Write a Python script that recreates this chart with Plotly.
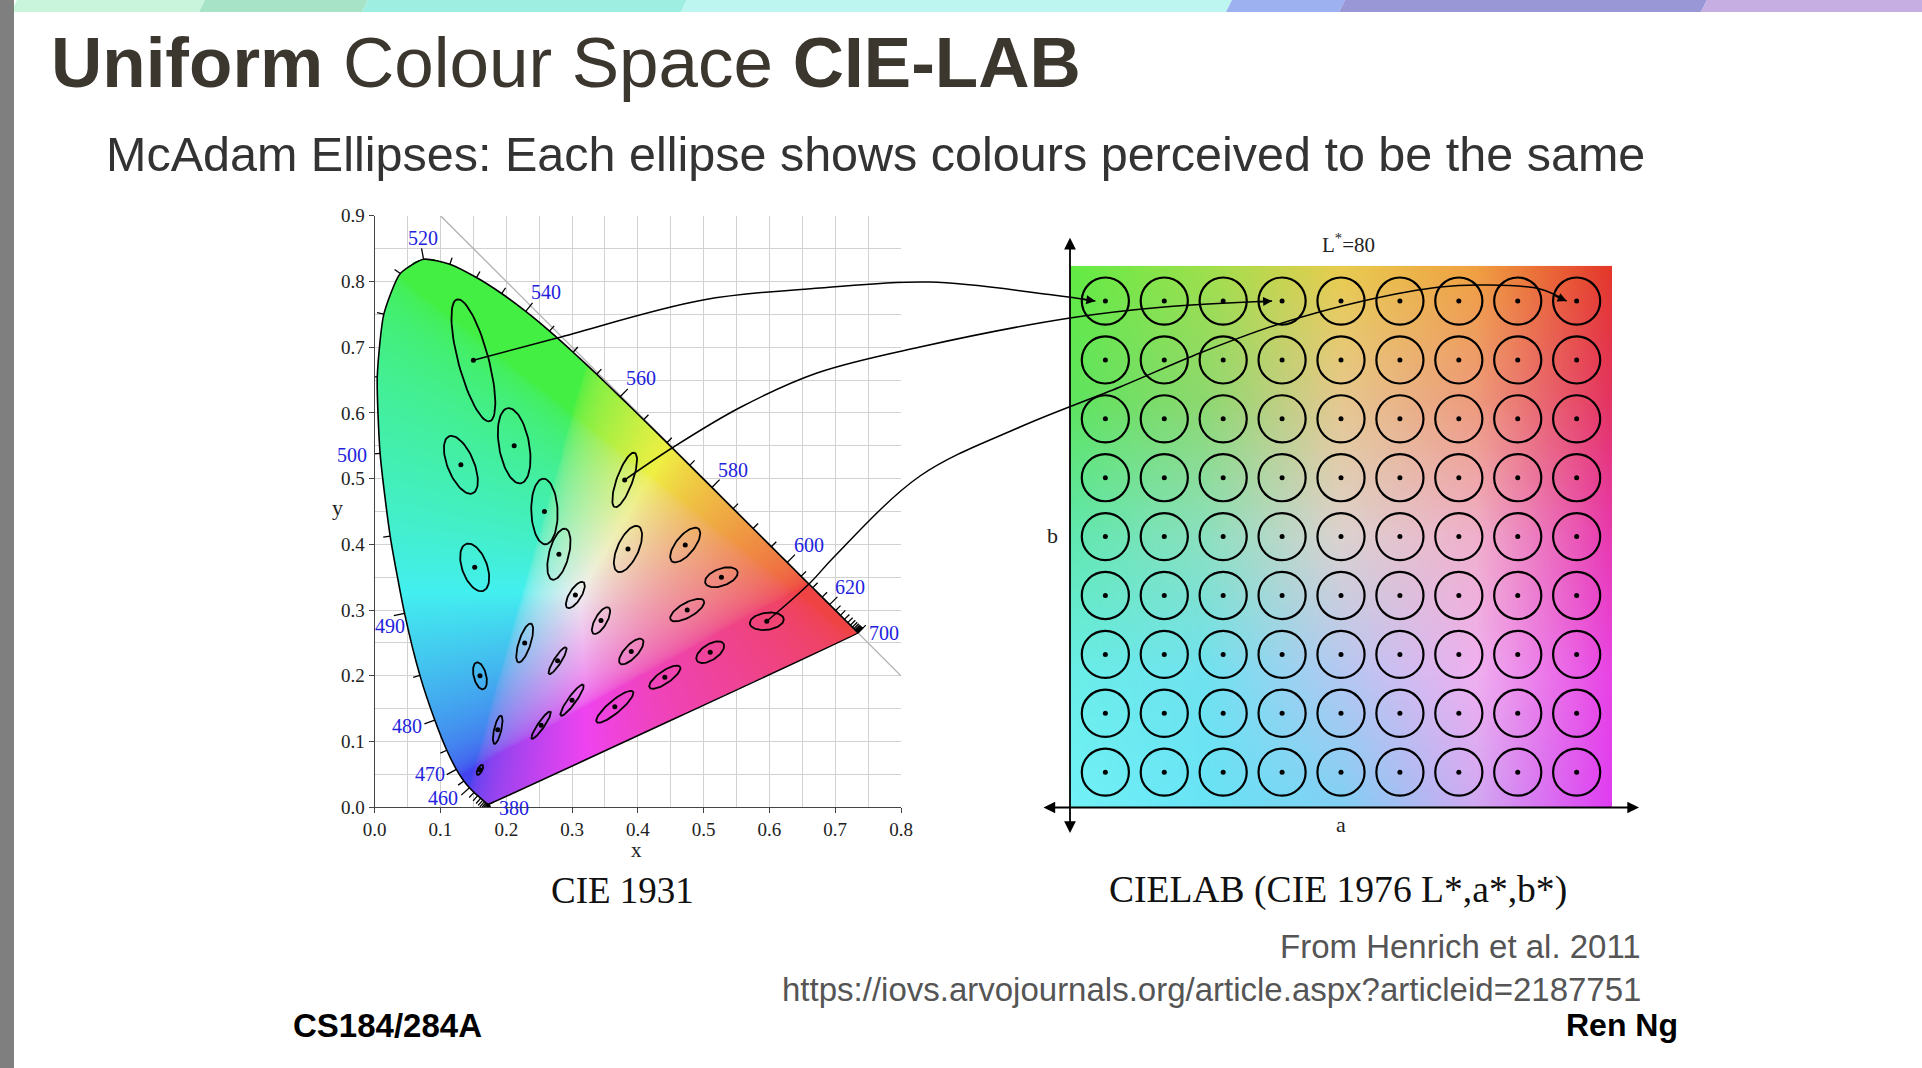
import numpy as np
import plotly.graph_objects as go

# All positions are in window pixels of the 1922x1068 page.
W, H = 1922, 1068

# ---------------- data ----------------
# CIE 1931 2-degree spectral locus, 5 nm steps
LOCUS_NM = list(range(380, 705, 5))
LOCUS_X = [0.1741, 0.1740, 0.1738, 0.1736, 0.1733, 0.1730, 0.1726, 0.1721, 0.1714, 0.1703,
           0.1689, 0.1669, 0.1644, 0.1611, 0.1566, 0.1510, 0.1440, 0.1355, 0.1241, 0.1096,
           0.0913, 0.0687, 0.0454, 0.0235, 0.0082, 0.0039, 0.0139, 0.0389, 0.0743, 0.1142,
           0.1547, 0.1929, 0.2296, 0.2658, 0.3016, 0.3373, 0.3731, 0.4087, 0.4441, 0.4788,
           0.5125, 0.5448, 0.5752, 0.6029, 0.6270, 0.6482, 0.6658, 0.6801, 0.6915, 0.7006,
           0.7079, 0.7140, 0.7190, 0.7230, 0.7260, 0.7283, 0.7300, 0.7311, 0.7320, 0.7327,
           0.7334, 0.7340, 0.7344, 0.7346, 0.7347]
LOCUS_Y = [0.0050, 0.0050, 0.0049, 0.0049, 0.0048, 0.0048, 0.0048, 0.0048, 0.0051, 0.0058,
           0.0069, 0.0086, 0.0109, 0.0138, 0.0177, 0.0227, 0.0297, 0.0399, 0.0578, 0.0868,
           0.1327, 0.2007, 0.2950, 0.4127, 0.5384, 0.6548, 0.7502, 0.8120, 0.8338, 0.8262,
           0.8059, 0.7816, 0.7543, 0.7243, 0.6923, 0.6589, 0.6245, 0.5896, 0.5547, 0.5202,
           0.4866, 0.4544, 0.4242, 0.3965, 0.3725, 0.3514, 0.3340, 0.3197, 0.3083, 0.2993,
           0.2920, 0.2859, 0.2809, 0.2770, 0.2740, 0.2717, 0.2700, 0.2689, 0.2680, 0.2673,
           0.2666, 0.2660, 0.2656, 0.2654, 0.2653]
WL_LABELS = [380, 460, 470, 480, 490, 500, 520, 540, 560, 580, 600, 620, 700]

# MacAdam (1942) ellipses: centre, semi-axes (x1e-3), orientation (deg); drawn 10x enlarged
MAC_X = [0.160, 0.187, 0.253, 0.150, 0.131, 0.212, 0.258, 0.152, 0.280, 0.380, 0.160, 0.228, 0.305,
         0.385, 0.472, 0.527, 0.475, 0.510, 0.596, 0.344, 0.390, 0.441, 0.278, 0.300, 0.365]
MAC_Y = [0.057, 0.118, 0.125, 0.680, 0.521, 0.550, 0.450, 0.365, 0.385, 0.498, 0.200, 0.250, 0.323,
         0.393, 0.399, 0.350, 0.300, 0.236, 0.283, 0.284, 0.237, 0.198, 0.223, 0.163, 0.153]
MAC_A = [0.85, 2.2, 2.5, 9.6, 4.7, 5.8, 5.0, 3.8, 4.0, 4.4, 2.1, 3.1, 2.3,
         3.8, 3.2, 2.6, 2.9, 2.4, 2.6, 2.3, 2.5, 2.8, 2.4, 2.9, 3.6]
MAC_B = [0.35, 0.55, 0.5, 2.3, 2.0, 2.3, 2.0, 1.9, 1.5, 1.2, 0.95, 0.9, 0.9,
         1.6, 1.4, 1.3, 1.1, 1.2, 1.3, 0.9, 1.0, 0.95, 0.55, 0.6, 0.95]
MAC_T = [62.5, 77, 55.5, 105, 112.5, 100, 92, 110, 75.5, 70, 104, 72, 58,
         65.5, 51, 20, 29.5, 33, 8, 60, 47, 34.5, 57.5, 54, 40]
MAC_SCALE = 10

GUIDE_X = [0.1, 0.8]   # x + y = 1 guide
GUIDE_Y = [0.9, 0.2]

# CIELAB plane, L* = 80
LAB_A = [-80, -60, -40, -20, 0, 20, 40, 60, 80]
LAB_B = [80, 60, 40, 20, 0, -20, -40, -60, -80]
LAB_RADIUS = 8
LAB_RANGE = 92

# connectors: ellipse number -> (a, b) circle
CONNECT_FROM = [4, 10, 19]
CONNECT_TO = [(-80, 80), (-20, 80), (80, 80)]

# ---------------- layout geometry (window pixels) ----------------
LX0, LX1, LY0, LY1 = 374.7, 901.0, 215.7, 807.3
RX0, RX1, RY0, RY1 = 1070.0, 1612.0, 265.7, 807.5


def dom_x(a, b):
    return [a / W, b / W]


def dom_y(top, bottom):
    return [1 - bottom / H, 1 - top / H]


def left_px(x, y):
    return LX0 + x / 0.8 * (LX1 - LX0), LY1 - y / 0.9 * (LY1 - LY0)


def right_px(a, b):
    return (RX0 + (a + LAB_RANGE) / (2 * LAB_RANGE) * (RX1 - RX0),
            RY1 - (b + LAB_RANGE) / (2 * LAB_RANGE) * (RY1 - RY0))


SX = (LX1 - LX0) / 0.8
SY = (LY1 - LY0) / 0.9

fig = go.Figure()

# ---------- horseshoe colour image ----------
lx = np.array(LOCUS_X)
ly = np.array(LOCUS_Y)


def catmull(px, py, n=10):
    ox, oy = [], []
    m = len(px)
    for i in range(m - 1):
        p0 = np.array([px[max(i - 1, 0)], py[max(i - 1, 0)]])
        p1 = np.array([px[i], py[i]])
        p2 = np.array([px[i + 1], py[i + 1]])
        p3 = np.array([px[min(i + 2, m - 1)], py[min(i + 2, m - 1)]])
        for t in np.linspace(0, 1, n, endpoint=False):
            t2, t3 = t * t, t * t * t
            p = 0.5 * ((2 * p1) + (-p0 + p2) * t + (2 * p0 - 5 * p1 + 4 * p2 - p3) * t2 +
                       (-p0 + 3 * p1 - 3 * p2 + p3) * t3)
            ox.append(p[0]); oy.append(p[1])
    ox.append(px[-1]); oy.append(py[-1])
    return np.array(ox), np.array(oy)


polx, poly = catmull(lx, ly)
step = 0.0015
gx = np.arange(0, 0.8, step) + step / 2
gy = np.arange(0, 0.9, step) + step / 2
XX, YY = np.meshgrid(gx, gy)
inside = np.zeros(XX.shape, dtype=bool)
n = len(polx)
for i in range(n):
    j = i - 1
    xi, yi, xj, yj = polx[i], poly[i], polx[j], poly[j]
    cond = ((yi > YY) != (yj > YY)) & (XX < (xj - xi) * (YY - yi) / (yj - yi + 1e-12) + xi)
    inside ^= cond
Xc = XX / YY
Zc = (1 - XX - YY) / YY
M = np.array([[3.2406, -1.5372, -0.4986], [-0.9689, 1.8758, 0.0415], [0.0557, -0.2040, 1.0570]])
rgb = np.einsum('ij,jhw->hwi', M, np.stack([Xc, np.ones_like(Xc), Zc]))
rgb = np.clip(rgb, 0, None)
rgb = rgb / np.maximum(rgb.max(axis=-1, keepdims=True), 1e-9)
rgb = np.where(rgb <= 0.0031308, 12.92 * rgb, 1.055 * np.power(rgb, 1 / 2.4) - 0.055)
rgb = (0.72 * rgb + 0.28) * 0.94
img = np.zeros(XX.shape + (4,), dtype=np.uint8)
img[..., :3] = np.clip(rgb * 255, 0, 255).astype(np.uint8)
img[..., 3] = np.where(inside, 255, 0)

# grey guide line under the horseshoe
fig.add_trace(go.Scatter(x=GUIDE_X, y=GUIDE_Y, mode='lines', line=dict(color='#b0b0b0', width=1.3),
                         xaxis='x', yaxis='y', hoverinfo='skip'))
fig.add_trace(go.Image(z=img, colormodel='rgba', x0=step / 2, dx=step, y0=step / 2, dy=step,
                       zmin=[0, 0, 0, 0], zmax=[255, 255, 255, 255], xaxis='x', yaxis='y',
                       hoverinfo='skip'))

# locus outline
fig.add_trace(go.Scatter(x=LOCUS_X + [LOCUS_X[0]], y=LOCUS_Y + [LOCUS_Y[0]], mode='lines',
                         line=dict(color='black', width=1.6, shape='spline', smoothing=0.6),
                         xaxis='x', yaxis='y', hoverinfo='skip'))

# wavelength ticks (outward normals, computed in pixel space)
tx, ty = [], []
for k, nm in enumerate(LOCUS_NM):
    i0, i1 = max(k - 1, 0), min(k + 1, len(LOCUS_NM) - 1)
    dx = (LOCUS_X[i1] - LOCUS_X[i0]) * SX
    dy = (LOCUS_Y[i1] - LOCUS_Y[i0]) * SY
    L = np.hypot(dx, dy)
    nx, ny = -dy / L, dx / L
    ln = 11 if nm in WL_LABELS else 7
    tx += [LOCUS_X[k], LOCUS_X[k] + nx * ln / SX, None]
    ty += [LOCUS_Y[k], LOCUS_Y[k] + ny * ln / SY, None]
fig.add_trace(go.Scatter(x=tx, y=ty, mode='lines', line=dict(color='black', width=1.3),
                         xaxis='x', yaxis='y', hoverinfo='skip'))

# MacAdam ellipses
ex, ey = [], []
tt = np.linspace(0, 2 * np.pi, 73)
for cx, cy, a, b, th in zip(MAC_X, MAC_Y, MAC_A, MAC_B, MAC_T):
    A = a * 1e-3 * MAC_SCALE
    B = b * 1e-3 * MAC_SCALE
    t = np.radians(th)
    ex += list(cx + A * np.cos(tt) * np.cos(t) - B * np.sin(tt) * np.sin(t)) + [None]
    ey += list(cy + A * np.cos(tt) * np.sin(t) + B * np.sin(tt) * np.cos(t)) + [None]
fig.add_trace(go.Scatter(x=ex, y=ey, mode='lines', line=dict(color='black', width=1.8),
                         xaxis='x', yaxis='y', hoverinfo='skip'))
fig.add_trace(go.Scatter(x=MAC_X, y=MAC_Y, mode='markers', marker=dict(color='black', size=5),
                         xaxis='x', yaxis='y', hoverinfo='skip'))

# ---------- CIELAB panel ----------
LAB_BG = [
    ['#62ec44', '#9ee04c', '#e8cc4e', '#f0a040', '#e4362a'],
    ['#5ee45e', '#8ed870', '#e6c890', '#ee9a7c', '#e43262'],
    ['#60e8b0', '#8ce0c0', '#dcd2d0', '#f0b0cc', '#e838b0'],
    ['#6aeee8', '#70e2f0', '#b4c8f2', '#f0b0f0', '#e842e4'],
    ['#72f2f8', '#68e4f6', '#80d0f4', '#d0a8f2', '#e03cf2'],
]
grid = np.array([[[int(c[1:3], 16), int(c[3:5], 16), int(c[5:7], 16)] for c in row] for row in LAB_BG],
                dtype=float)
N = 2 * LAB_RANGE
u = (np.arange(N) + 0.5) / N
UU, VV = np.meshgrid(u, u)          # VV: 0 at bottom
gi = (1 - VV) * 4                    # row index from top
gj = UU * 4
i0 = np.clip(np.floor(gi).astype(int), 0, 3)
j0 = np.clip(np.floor(gj).astype(int), 0, 3)
fi = (gi - i0)[..., None]
fj = (gj - j0)[..., None]
lab_img = (grid[i0, j0] * (1 - fi) * (1 - fj) + grid[i0 + 1, j0] * fi * (1 - fj) +
           grid[i0, j0 + 1] * (1 - fi) * fj + grid[i0 + 1, j0 + 1] * fi * fj)
fig.add_trace(go.Image(z=lab_img.astype(np.uint8), x0=-LAB_RANGE + 0.5, dx=1, y0=-LAB_RANGE + 0.5, dy=1,
                       xaxis='x2', yaxis='y2', hoverinfo='skip'))
ga, gb = np.meshgrid(LAB_A, LAB_B)
fig.add_trace(go.Scatter(x=ga.ravel(), y=gb.ravel(), mode='markers', marker=dict(color='black', size=5),
                         xaxis='x2', yaxis='y2', hoverinfo='skip'))

shapes = []
for a in LAB_A:
    for b in LAB_B:
        shapes.append(dict(type='circle', xref='x2', yref='y2', x0=a - LAB_RADIUS, x1=a + LAB_RADIUS,
                           y0=b - LAB_RADIUS, y1=b + LAB_RADIUS, line=dict(color='black', width=2.2),
                           layer='above'))

# ---------- slide decoration (pixel overlay axes x3/y3) ----------
STRIPE_EDGES = [14, 202, 365, 684, 1229, 1342, 1704, 1925]
STRIPE_COLORS = ['#c9f5dd', '#a6e3c7', '#9eeee2', '#bdf5f0', '#9db0f0', '#9a97d6', '#c6aee2']
for k, col in enumerate(STRIPE_COLORS):
    a, b = STRIPE_EDGES[k], STRIPE_EDGES[k + 1]
    shapes.append(dict(type='path', xref='x3', yref='y3', line=dict(width=0), fillcolor=col, layer='above',
                       path=f'M {a+3},0 L {b+3},0 L {b-3},12 L {a-3},12 Z'))
shapes.append(dict(type='rect', xref='x3', yref='y3', x0=0, x1=14, y0=0, y1=H, fillcolor='#7f7f7f',
                   line=dict(width=0), layer='above'))

annotations = []


def txt(x, y, text, size, color='#111', family='Liberation Sans', xanchor='center', yanchor='middle'):
    annotations.append(dict(x=x, y=y, xref='x3', yref='y3', text=text, showarrow=False,
                            xanchor=xanchor, yanchor=yanchor,
                            font=dict(family=family, size=size, color=color)))


txt(49, 62, '<b>Uniform</b> Colour Space <b>CIE-LAB</b>', 71, '#3b372f', xanchor='left')
txt(104, 154, 'McAdam Ellipses: Each ellipse shows colours perceived to be the same', 48.5, '#333333',
    xanchor='left')
txt(622.5, 890, 'CIE 1931', 37, '#111', 'Liberation Serif')
txt(1338, 890, 'CIELAB (CIE 1976 L*,a*,b*)', 37.6, '#111', 'Liberation Serif')
txt(1643, 946, 'From Henrich et al. 2011', 33, '#555555', xanchor='right')
txt(1643, 989, 'https://iovs.arvojournals.org/article.aspx?articleid=2187751', 33, '#555555',
    xanchor='right')
txt(1680, 1025, '<b>Ren Ng</b>', 32, '#000', xanchor='right')
txt(291, 1025, '<b>CS184/284A</b>', 33, '#000', xanchor='left')
txt(636.7, 850, 'x', 21, '#222', 'Liberation Serif')
txt(337.2, 507, 'y', 22, '#222', 'Liberation Serif')
txt(1348, 243, 'L<sup>*</sup>=80', 21, '#222', 'Liberation Serif')
txt(1052, 535, 'b', 22, '#222', 'Liberation Serif')
txt(1341, 824, 'a', 22, '#222', 'Liberation Serif')

# wavelength labels
WL_OFFSET = {380: (25, 4), 460: (-26, 10), 470: (-26, 5), 480: (-28, 6), 490: (-15, 13), 500: (-28, 2),
             520: (-1, -21), 540: (20, -19), 560: (21, -19), 580: (21, -17.5), 600: (22, -17),
             620: (20, -18), 700: (26, 0)}
for nm in WL_LABELS:
    k = LOCUS_NM.index(nm)
    dx, dy = WL_OFFSET[nm]
    annotations.append(dict(x=LOCUS_X[k], y=LOCUS_Y[k], xref='x', yref='y', text=str(nm),
                            showarrow=False, xshift=dx, yshift=-dy,
                            font=dict(family='Liberation Serif', size=20, color='#2222dd')))

# LAB axes arrows
for (x, y, axp, ayp) in [(RX0, RY0 - 28, RX0, RY1 + 27), (RX1 + 27, RY1, RX0 - 28, RY1)]:
    annotations.append(dict(x=x, y=y, ax=axp, ay=ayp, xref='x3', yref='y3', axref='x3', ayref='y3',
                            text='', showarrow=True, arrowhead=2, arrowside='end+start', arrowsize=1.3,
                            arrowwidth=1.8, arrowcolor='black'))

# connectors
CONN_VIA = [
    [(557, 338), (703, 300), (820, 288), (930, 282), (1053, 295)],
    [(672, 448), (741, 407), (817, 373), (920, 347), (1070, 318), (1164, 307)],
    [(810, 583), (833, 558), (920, 476), (1020, 427), (1120, 387), (1200, 353), (1279, 324), (1363, 301),
     (1440, 287), (1485, 285), (1540, 289)],
]
TIP_GAP = 10
for src, dst, via in zip(CONNECT_FROM, CONNECT_TO, CONN_VIA):
    sx, sy = left_px(MAC_X[src - 1], MAC_Y[src - 1])
    cx, cy = right_px(*dst)
    tipx, tipy = cx - TIP_GAP, cy
    xs = [sx] + [p[0] for p in via] + [tipx]
    ys = [sy] + [p[1] for p in via] + [tipy]
    fig.add_trace(go.Scatter(x=xs, y=ys, mode='lines', xaxis='x3', yaxis='y3', hoverinfo='skip',
                             line=dict(color='black', width=1.5, shape='spline', smoothing=1.0)))
    ddx, ddy = tipx - via[-1][0], tipy - via[-1][1]
    L = np.hypot(ddx, ddy)
    annotations.append(dict(x=tipx, y=tipy, xref='x3', yref='y3', ax=-ddx / L * 14, ay=-ddy / L * 14,
                            text='', showarrow=True, arrowhead=2, arrowsize=1.2, arrowwidth=1.5,
                            arrowcolor='black'))

tickfont = dict(family='Liberation Serif', size=19, color='#222')
axis_common = dict(dtick=0.1, tick0=0, tickformat='.1f', autorange=False, automargin=False,
                   showgrid=True, gridcolor='#d2d2d2', gridwidth=1.2, zeroline=False, showline=True,
                   linecolor='#444', linewidth=1.2, ticks='outside', ticklen=5, tickcolor='#444',
                   tickfont=tickfont, fixedrange=True,
                   minor=dict(dtick=0.05, showgrid=True, gridcolor='#d2d2d2', gridwidth=1.2))
hidden = dict(visible=False, fixedrange=True, automargin=False, autorange=False)
fig.update_layout(
    autosize=True, margin=dict(l=0, r=0, t=0, b=0, pad=0, autoexpand=False),
    paper_bgcolor='white', plot_bgcolor='rgba(0,0,0,0)', showlegend=False, hovermode=False,
    xaxis=dict(domain=dom_x(LX0, LX1), range=[0, 0.8], anchor='y', **axis_common),
    yaxis=dict(domain=dom_y(LY0, LY1), range=[0, 0.9], anchor='x', scaleanchor=False, **axis_common),
    xaxis2=dict(domain=dom_x(RX0, RX1), range=[-LAB_RANGE, LAB_RANGE], anchor='y2', **hidden),
    yaxis2=dict(domain=dom_y(RY0, RY1), range=[-LAB_RANGE, LAB_RANGE], anchor='x2', scaleanchor=False,
                **hidden),
    xaxis3=dict(domain=[0, 1], range=[0, W], anchor='y3', **hidden),
    yaxis3=dict(domain=[0, 1], range=[H, 0], anchor='x3', **hidden),
    shapes=shapes, annotations=annotations,
)

fig.write_html("out.html",
               default_width="100vw; position:fixed; left:0; top:0; margin:0",
               default_height="100vh")
